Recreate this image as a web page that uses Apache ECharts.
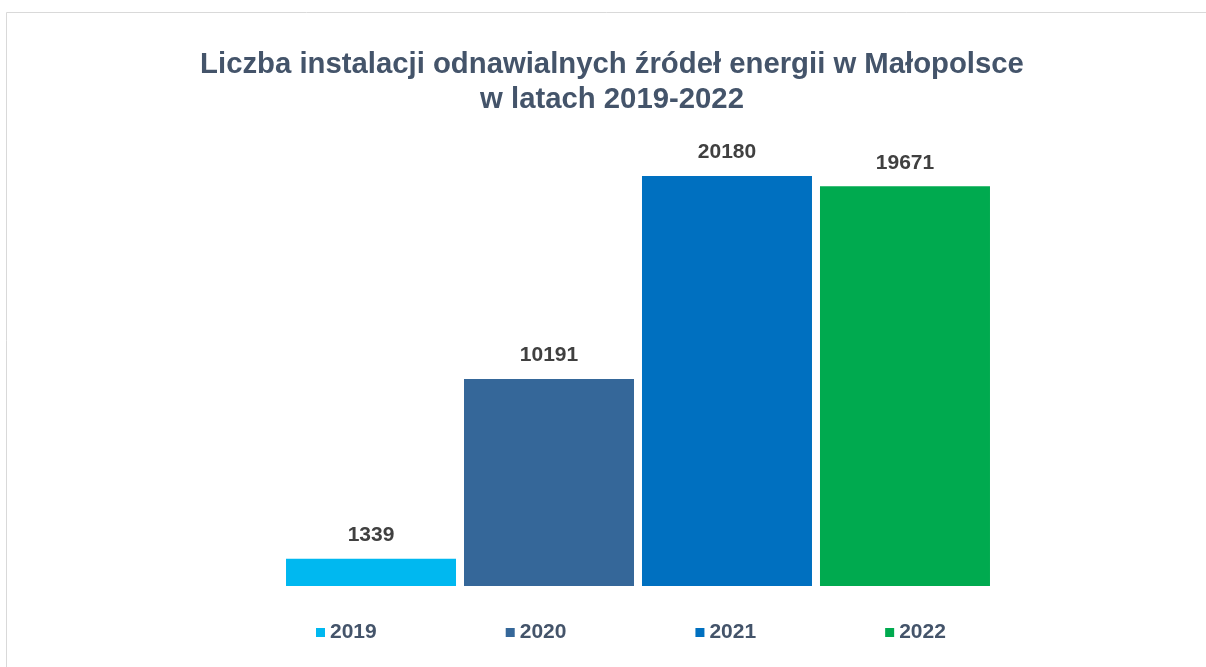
<!DOCTYPE html>
<html>
<head>
<meta charset="utf-8">
<script src="https://cdn.jsdelivr.net/npm/echarts@6/dist/echarts.min.js"></script>
<style>
  html, body { margin: 0; padding: 0; background: #fff; }
  #chart { width: 1206px; height: 667px; }
</style>
</head>
<body>
<div id="chart"></div>
<script>
// dane z wykresu
const years = ['2019', '2020', '2021', '2022']
const values = [1339, 10191, 20180, 19671]
const colors = ['#00b8f0', '#356799', '#0070c0', '#00aa4f']

const myChart = echarts.init(document.getElementById('chart'))

const series = years.map((y, i) => {
  return {
    name: y,
    type: 'bar',
    barWidth: 170,
    barGap: '4.7%',
    data: [values[i]],
    itemStyle: { color: colors[i] },
    label: {
      show: true,
      position: 'top',
      distance: 13,
      color: '#404040',
      fontSize: 21,
      fontWeight: 'bold',
      fontFamily: 'Liberation Sans, Arial, sans-serif'
    }
  }
})

const option = {
  animation: false,
  backgroundColor: '#fff',
  title: {
    text: 'Liczba instalacji odnawialnych źródeł energii w Małopolsce\nw latach 2019-2022',
    left: 607,
    textAlign: 'center',
    top: 42,
    textStyle: {
      color: '#44546a',
      fontSize: 29.3,
      fontWeight: 'bold',
      lineHeight: 35,
      fontFamily: 'Liberation Sans, Arial, sans-serif'
    }
  },
  graphic: [
    {
      type: 'rect',
      shape: { x: 6.5, y: 12.5, width: 1400, height: 800 },
      style: { fill: 'none', stroke: '#d9d9d9', lineWidth: 1 },
      silent: true
    }
  ],
  legend: {
    data: years,
    left: 311,
    top: 617,
    icon: 'rect',
    itemWidth: 9,
    itemHeight: 9,
    itemGap: 129,
    textStyle: {
      color: '#44546a',
      fontSize: 21,
      fontWeight: 'bold',
      fontFamily: 'Liberation Sans, Arial, sans-serif'
    }
  },
  grid: {
    left: 282,
    width: 712,
    top: 78,
    bottom: 81
  },
  xAxis: {
    type: 'category',
    data: [''],
    axisLine: { show: false },
    axisTick: { show: false },
    axisLabel: { show: false }
  },
  yAxis: {
    type: 'value',
    min: 0,
    max: 25000,
    show: false,
    splitLine: { show: false }
  },
  series: series
}

option && myChart.setOption(option)
</script>
</body>
</html>
